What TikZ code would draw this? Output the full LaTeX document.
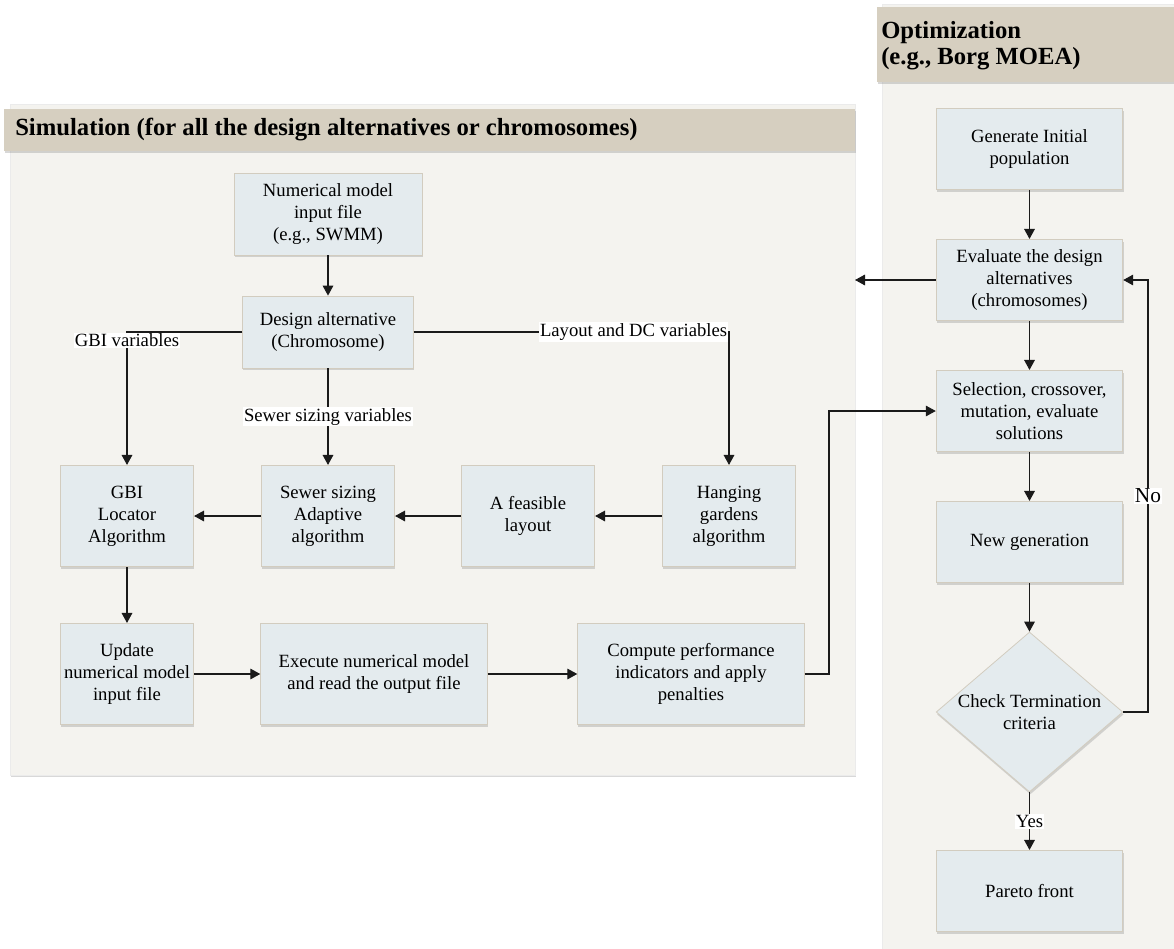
\documentclass[tikz,border=0pt]{standalone}
\usepackage{fontspec}
\setmainfont{Liberation Serif}
\usetikzlibrary{shapes.geometric,arrows.meta,shadows}
\definecolor{panelbg}{HTML}{F4F3EF}
\definecolor{headbg}{HTML}{D6CFC0}
\definecolor{boxbg}{HTML}{E4EBEE}
\definecolor{boxline}{HTML}{D2CCBF}
\definecolor{wirecol}{HTML}{1A1A1A}

\begin{document}
\begin{tikzpicture}[x=0.75pt,y=-0.75pt,
 font=\fontsize{14pt}{16.5pt}\selectfont,
 shade/.style={drop shadow={opacity=0.3,shadow xshift=0.6pt,shadow yshift=-1.8pt}},
 box/.style={draw=boxline,fill=boxbg,line width=0.6pt,align=center,inner sep=2pt,shade,minimum width=100pt,minimum height=76pt},
 wide/.style={box,minimum width=170pt},
 optbox/.style={box,minimum width=140pt,minimum height=61pt},
 check/.style={diamond,draw=boxline,fill=boxbg,line width=0.6pt,minimum width=140pt,minimum height=120pt,inner sep=0pt,shade},
 panel/.style={fill=panelbg,draw=black!8,line width=0.5pt,shade},
 head/.style={fill=headbg,shade},
 title/.style={font=\fontsize{18.5pt}{19.5pt}\selectfont\bfseries,align=left,anchor=west,inner sep=0pt},
 lbl/.style={fill=white,inner sep=1pt},
 wire/.style={draw=wirecol,line width=0.8pt},
 arr/.style={wire,-{Triangle[length=7.5pt,width=8pt]}}]
\fill[white] (0,0) rectangle (1174,949);
\useasboundingbox (0,0) rectangle (1174,949);

\begin{scope} %simulation panel
\draw[panel] (10,104) rectangle (855,775);
\fill[head] (4,109) rectangle (855,151);
\node[title] (simtitle) at (15,130) {Simulation (for all the design alternatives or chromosomes)};
\node[box,minimum width=141pt,minimum height=61.5pt] (nmodel) at (328,214) {Numerical model\\input file\\(e.g., SWMM)};
\node[box,minimum width=128pt,minimum height=54pt] (dalt) at (328,332) {Design alternative\\(Chromosome)};
\node[box] (gbi) at (127,516) {GBI\\Locator\\Algorithm};
\node[box] (sewer) at (328,516) {Sewer sizing\\Adaptive\\algorithm};
\node[box] (layout) at (528,516) {A feasible\\layout};
\node[box] (hang) at (729,516) {Hanging\\gardens\\algorithm};
\node[box] (update) at (127,674) {Update\\numerical model\\input file};
\node[wide] (exec) at (374,674) {Execute numerical model\\and read the output file};
\node[wide] (perf) at (691,674) {Compute performance\\indicators and apply\\penalties};
\end{scope}

\begin{scope} %optimization panel
\draw[panel] (882,4) rectangle (1180,960);
\fill[head] (877,7) rectangle (1180,82);
\node[title] (opttitle) at (881,46) {Optimization\\(e.g., Borg MOEA)};
\node[optbox] (init) at (1029.5,149) {Generate Initial\\population};
\node[optbox] (eval) at (1029.5,280) {Evaluate the design\\alternatives\\(chromosomes)};
\node[optbox] (sel) at (1029.5,411) {Selection, crossover,\\mutation, evaluate\\solutions};
\node[optbox] (newgen) at (1029.5,542) {New generation};
\node[check,label={[align=center]center:Check Termination\\criteria}] (chk) at (1029.5,712) {};
\node[optbox] (pareto) at (1029.5,891) {Pareto front};
\end{scope}

\coordinate (turn) at (829,540);
\coordinate (simin) at (855,280);
\coordinate (noturn) at (1148,496);

\draw[arr] (nmodel) -- (dalt);
\draw[arr] (dalt.west) -| node[lbl,anchor=north] {GBI variables} (gbi.north);
\draw[arr] (dalt.east) -| node[lbl,anchor=east] {Layout and DC variables} (hang.north);
\draw[arr] (dalt) -- node[lbl] {Sewer sizing variables} (sewer);
\draw[arr] (hang) -- (layout);
\draw[arr] (layout) -- (sewer);
\draw[arr] (sewer) -- (gbi);
\draw[arr] (gbi) -- (update);
\draw[arr] (update) -- (exec);
\draw[arr] (exec) -- (perf);
\draw[arr] (perf.east) -| (turn) |- (sel.west);

\draw[arr] (init) -- (eval);
\draw[arr] (eval.west) -- (simin);
\draw[arr] (eval) -- (sel);
\draw[arr] (sel) -- (newgen);
\draw[arr] (newgen) -- (chk);
\draw[arr] (chk.east) -| (noturn) node[lbl,font=\fontsize{16pt}{18pt}\selectfont] {No} |- (eval.east);
\draw[arr] (chk.south) -- node[lbl] {Yes} (pareto.north);
\end{tikzpicture}
\end{document}
